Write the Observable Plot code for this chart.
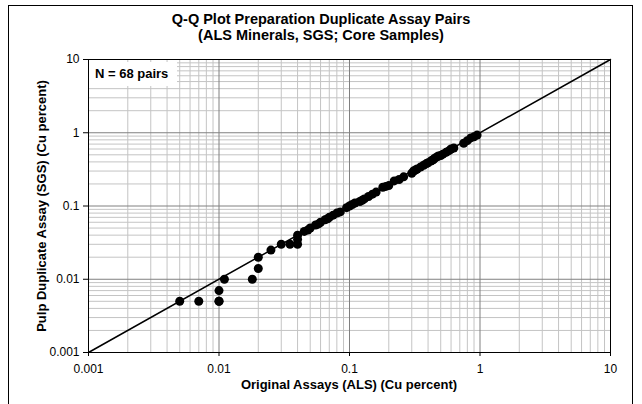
<!DOCTYPE html>
<html>
<head>
<meta charset="utf-8">
<script src="https://cdn.jsdelivr.net/npm/d3@7"></script>
<script src="https://cdn.jsdelivr.net/npm/@observablehq/plot@0.6"></script>
<style>
  html, body { margin: 0; padding: 0; background: #fff; }
  body { width: 642px; height: 404px; overflow: hidden; position: relative; font-family: "Liberation Sans", Arial, sans-serif; }
  #border { position: absolute; left: 8px; top: 5px; width: 625px; height: 420px; border: 1px solid #000; box-sizing: border-box; }
  #chart { position: absolute; left: 0; top: 0; }
  .t { position: absolute; font-weight: bold; font-size: 13px; color: #000; white-space: nowrap; }
  #title { left: 0; width: 642px; top: 11px; text-align: center; line-height: 16px; font-size: 14.5px; }
  #xlab { left: 88px; width: 522px; top: 377px; text-align: center; }
  #ylab { left: 41px; top: 206px; transform: translate(-50%, -50%) rotate(-90deg); }
  #nbox { left: 89px; top: 62px; width: 88px; height: 24px; background: #fff; line-height: 24px; padding-left: 6px; box-sizing: border-box; }
</style>
</head>
<body>
<div id="border"></div>
<div id="chart"></div>
<div id="title" class="t">Q-Q Plot Preparation Duplicate Assay Pairs<br>(ALS Minerals, SGS; Core Samples)</div>
<div id="xlab" class="t">Original Assays (ALS) (Cu percent)</div>
<div id="ylab" class="t">Pulp Duplicate Assay (SGS) (Cu percent)</div>
<div id="nbox" class="t">N = 68 pairs</div>
<script>
const originalALS = [0.005,0.007,0.01,0.01,0.01,0.011,0.018,0.02,0.02,0.025,0.03,0.035,0.04,0.04,0.04,0.045,0.048,0.05,0.055,0.058,0.06,0.065,0.068,0.07,0.075,0.08,0.085,0.095,0.1,0.105,0.11,0.12,0.125,0.13,0.14,0.15,0.16,0.18,0.19,0.2,0.22,0.24,0.26,0.3,0.31,0.32,0.33,0.35,0.37,0.39,0.4,0.42,0.43,0.44,0.45,0.47,0.48,0.5,0.52,0.55,0.58,0.6,0.63,0.75,0.8,0.85,0.9,0.95];
const duplicateSGS = [0.005,0.005,0.005,0.005,0.007,0.01,0.01,0.014,0.02,0.025,0.03,0.03,0.03,0.035,0.04,0.045,0.047,0.05,0.055,0.057,0.06,0.065,0.067,0.07,0.075,0.08,0.083,0.095,0.1,0.105,0.11,0.115,0.12,0.125,0.135,0.145,0.155,0.18,0.185,0.19,0.22,0.23,0.25,0.28,0.3,0.31,0.32,0.34,0.36,0.38,0.39,0.41,0.42,0.43,0.45,0.47,0.48,0.49,0.51,0.54,0.57,0.6,0.62,0.72,0.78,0.85,0.88,0.93];
const majorTicks = [0.001, 0.01, 0.1, 1, 10];
const tickLabels = ["0.001", "0.01", "0.1", "1", "10"];
const minorTicks = [0.002,0.003,0.004,0.005,0.006,0.007,0.008,0.009,0.02,0.03,0.04,0.05,0.06,0.07,0.08,0.09,0.2,0.3,0.4,0.5,0.6,0.7,0.8,0.9,2,3,4,5,6,7,8,9];
const oneToOne = [0.001, 10];

const pairs = originalALS.map((a, i) => ({als: a, sgs: duplicateSGS[i]}));
const fmt = d => tickLabels[majorTicks.indexOf(d)] ?? "";

const chart = Plot.plot({
  width: 642, height: 404,
  marginLeft: 88, marginRight: 32, marginTop: 59, marginBottom: 52,
  style: {fontFamily: "'Liberation Sans', Arial, sans-serif", fontSize: "12px", color: "#000", background: "transparent"},
  x: {type: "log", domain: [0.001, 10]},
  y: {type: "log", domain: [0.001, 10]},
  marks: [
    Plot.gridX(minorTicks, {stroke: "#c4c4c4", strokeOpacity: 1}),
    Plot.gridY(minorTicks, {stroke: "#c4c4c4", strokeOpacity: 1}),
    Plot.gridX(majorTicks, {stroke: "#808080", strokeOpacity: 1}),
    Plot.gridY(majorTicks, {stroke: "#808080", strokeOpacity: 1}),
    Plot.frame({stroke: "#000"}),
    Plot.axisX(majorTicks, {tickFormat: fmt, tickSize: 4, tickPadding: 8, label: null, fontSize: 12}),
    Plot.axisY(majorTicks, {tickFormat: fmt, tickSize: 5, tickPadding: 4, label: null, fontSize: 12}),
    Plot.line(oneToOne, {x: d => d, y: d => d, stroke: "#000", strokeWidth: 1.5}),
    Plot.dot(pairs, {x: "als", y: "sgs", r: 4.5, fill: "#000", stroke: "none"})
  ]
});
document.getElementById("chart").appendChild(chart);
</script>
</body>
</html>
